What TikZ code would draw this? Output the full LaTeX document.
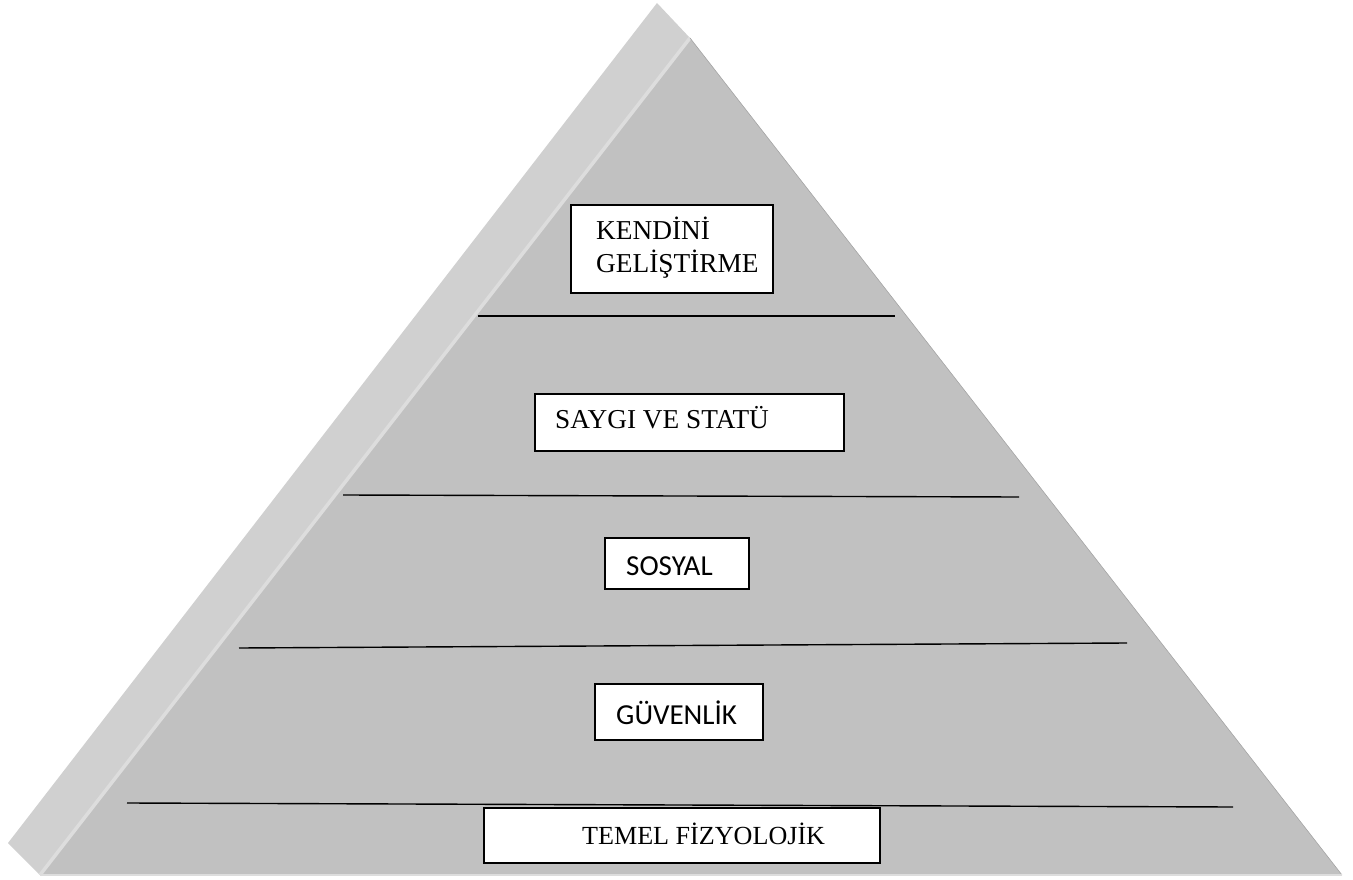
\documentclass[tikz,border=0pt]{standalone}
\usepackage{fontspec}
\setmainfont{Liberation Serif}
\newfontfamily\calibrifont{Carlito}
\begin{document}
\begin{tikzpicture}[x=1pt,y=-1pt,
  bevelface/.style={fill=bevelgray,draw=none},
  frontface/.style={fill=frontgray,draw=none},
  levelline/.style={draw=black,line width=1.4pt},
  levelbox/.style={draw=black,fill=white,line width=1.6pt,inner sep=0pt,anchor=north west},
  seriflabel/.style={anchor=base west,inner sep=0pt,font=\fontsize{27.3}{32}\selectfont},
  sanslabel/.style={anchor=base west,inner sep=0pt,font=\calibrifont\fontsize{29}{34}\selectfont}
]
\definecolor{bevelgray}{RGB}{208,208,208}
\definecolor{frontgray}{RGB}{193,193,193}
\definecolor{ridgegray}{RGB}{221,221,221}
\useasboundingbox (0,0) rectangle (1353,880);

% corners of the pyramid
\coordinate (bevtop) at (657,3);
\coordinate (bevleft) at (8,843);
\coordinate (apex) at (690,38);
\coordinate (baseL) at (40,875);
\coordinate (baseR) at (1342,875);

% side bevel and front face
\path[bevelface] (bevtop) -- (bevleft) -- (baseL) -- (apex) -- cycle;
\path[frontface] (apex) -- (baseR) -- (baseL) -- cycle;
\draw[ridgegray,line width=3.5pt] (apex) -- (baseL);
\draw[frontgray!85!black,line width=0.6pt] (apex) -- (baseR);
\draw[ridgegray,line width=1.2pt] (baseL) -- (baseR);

% level separators
\coordinate (l1a) at (478,316);  \coordinate (l1b) at (895,316);
\coordinate (l2a) at (343,495);  \coordinate (l2b) at (1019,497);
\coordinate (l3a) at (239,648);  \coordinate (l3b) at (1127,643);
\coordinate (l4a) at (127,803);  \coordinate (l4b) at (1233,807);
\draw[levelline] (l1a) -- (l1b);
\draw[levelline] (l2a) -- (l2b);
\draw[levelline] (l3a) -- (l3b);
\draw[levelline] (l4a) -- (l4b);

% labelled boxes
\node[levelbox,minimum width=202pt,minimum height=88pt] (self) at (570,204) {};
\node[seriflabel] (selfA) at (596,239) {KENDİNİ};
\node[seriflabel] (selfB) at (596,272) {GELİŞTİRME};

\node[levelbox,minimum width=309pt,minimum height=57pt] (esteem) at (534,393) {};
\node[seriflabel] (esteemT) at (555,428) {SAYGI VE STATÜ};

\node[levelbox,minimum width=144pt,minimum height=51pt] (social) at (604,537) {};
\node[sanslabel] (socialT) at (626,575) {SOSYAL};

\node[levelbox,minimum width=168pt,minimum height=56pt] (safety) at (594,683) {};
\node[sanslabel] (safetyT) at (616,724) {GÜVENLİK};

\node[levelbox,minimum width=396pt,minimum height=55pt] (basic) at (483,807) {};
\node[seriflabel,font=\fontsize{26.1}{31}\selectfont] (basicT) at (582,844) {TEMEL FİZYOLOJİK};
\end{tikzpicture}
\end{document}
